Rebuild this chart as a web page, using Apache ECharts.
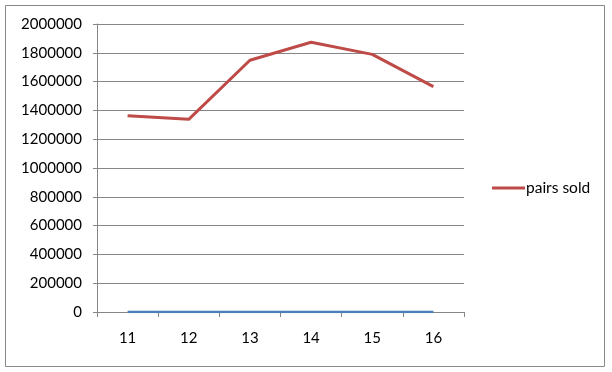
<!DOCTYPE html>
<html>
<head>
<meta charset="utf-8">
<script src="https://cdn.jsdelivr.net/npm/echarts@6/dist/echarts.min.js"></script>
<style>
html,body{margin:0;padding:0;background:#fff;}
#chart{width:612px;height:372px;}
</style>
</head>
<body>
<div id="chart"></div>
<script>
const categories = ['11', '12', '13', '14', '15', '16'];
const pairsSold = [1363000, 1338000, 1748000, 1873000, 1789000, 1565000];
const yearSeries = [11, 12, 13, 14, 15, 16];
const yTicks = { min: 0, max: 2000000, interval: 200000 };

const chart = echarts.init(document.getElementById('chart'), null, { renderer: 'canvas' });
const font = 'Lato, "Open Sans", sans-serif';
chart.setOption({
  animation: false,
  backgroundColor: '#fff',
  graphic: [{
    type: 'rect',
    shape: { x: 5.5, y: 5.5, width: 599, height: 361 },
    style: { fill: 'none', stroke: '#888', lineWidth: 1 },
    silent: true
  }],
  grid: { left: 97, right: 148, top: 24, bottom: 60, containLabel: false },
  legend: {
    data: ['pairs sold'],
    left: 487, top: 175,
    icon: 'rect', itemWidth: 33, itemHeight: 3, itemGap: 2,
    textStyle: { fontFamily: font, fontSize: 15.5, color: '#000', padding: [0, 0, 0, -4] }
  },
  xAxis: {
    type: 'category',
    data: categories,
    boundaryGap: true,
    axisLine: { show: true, lineStyle: { color: '#868686', width: 1 } },
    axisTick: { show: true, interval: 0, length: 5, inside: false, lineStyle: { color: '#868686' } },
    axisLabel: { fontFamily: font, fontSize: 15, color: '#000', margin: 19 },
    splitLine: { show: false }
  },
  yAxis: {
    type: 'value',
    min: yTicks.min, max: yTicks.max, interval: yTicks.interval,
    axisLine: { show: true, lineStyle: { color: '#868686', width: 1 } },
    axisTick: { show: true, length: 4, lineStyle: { color: '#868686' } },
    axisLabel: { fontFamily: font, fontSize: 15, color: '#000', margin: 15, formatter: v => String(v) },
    splitLine: { show: true, lineStyle: { color: '#868686', width: 1 } }
  },
  series: [
    {
      name: 'year',
      type: 'line',
      data: yearSeries,
      symbol: 'none',
      lineStyle: { color: '#4a7ebb', width: 2.5 },
      itemStyle: { color: '#4a7ebb' }
    },
    {
      name: 'pairs sold',
      type: 'line',
      data: pairsSold,
      symbol: 'none',
      lineStyle: { color: '#be4b48', width: 3 },
      itemStyle: { color: '#be4b48' }
    }
  ]
});
</script>
</body>
</html>
